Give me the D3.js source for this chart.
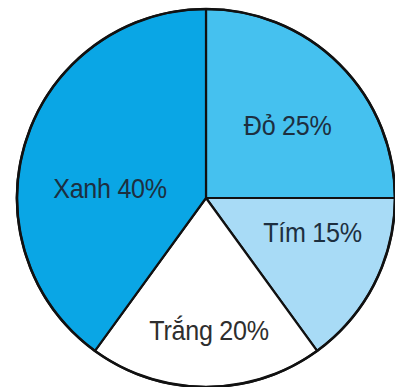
<!DOCTYPE html>
<html>
<head>
<meta charset="utf-8">
<script src="https://cdn.jsdelivr.net/npm/d3@7"></script>
<style>
  html, body { margin: 0; padding: 0; background: #fff; }
  svg { display: block; }
</style>
</head>
<body>
<svg id="chart" width="395" height="387"></svg>
<script>
const categories = ["Đỏ", "Tím", "Trắng", "Xanh"];
const values = [25, 15, 20, 40];
const colors = ["#45c1ef", "#a8dbf6", "#ffffff", "#0aa6e5"];

const W = 395, H = 387;
const cx = 206, cy = 198, R = 189;
// label placement: [angle in degrees from 12 o'clock, distance from centre]
const labelPlace = [[48.5, 109], [108, 112], [178.7, 132.5], [276, 96.5]];

const svg = d3.select("#chart");
const g = svg.append("g").attr("transform", `translate(${cx},${cy})`);

const pie = d3.pie().sort(null).value(d => d)(values);
const arc = d3.arc().innerRadius(0).outerRadius(R);

g.selectAll("path.slice")
  .data(pie)
  .join("path")
  .attr("class", "slice")
  .attr("d", arc)
  .attr("fill", (d, i) => colors[i])
  .attr("stroke", "#111")
  .attr("stroke-width", 2.2)
  .attr("stroke-linejoin", "round");

g.append("circle")
  .attr("r", R)
  .attr("fill", "none")
  .attr("stroke", "#111")
  .attr("stroke-width", 2.6);

g.selectAll("text.lbl")
  .data(pie)
  .join("text")
  .attr("class", "lbl")
  .attr("transform", (d, i) => {
    const a = labelPlace[i][0] * Math.PI / 180, r = labelPlace[i][1];
    return `translate(${r * Math.sin(a)},${-r * Math.cos(a)}) scale(0.93,1)`;
  })
  .attr("text-anchor", "middle")
  .attr("dy", "0.36em")
  .attr("font-family", "'Liberation Sans', Arial, sans-serif")
  .attr("font-size", 27)
  .attr("letter-spacing", -0.3)
  .attr("fill", (d, i) => i === 2 ? "#2e2e2e" : "#1d2f40")
  .text((d, i) => `${categories[i]} ${values[i]}%`);
</script>
</body>
</html>
